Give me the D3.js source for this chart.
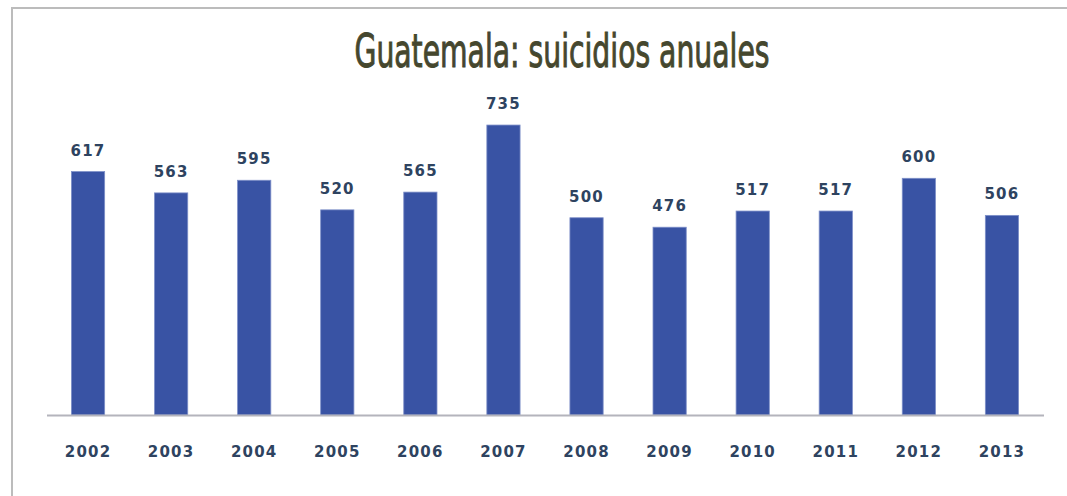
<!DOCTYPE html>
<html>
<head>
<meta charset="utf-8">
<script src="https://cdn.jsdelivr.net/npm/d3@7"></script>
<style>
  body { margin: 0; background: #fff; }
</style>
</head>
<body>
<div id="chart"></div>
<script>
// datos
const years = ["2002", "2003", "2004", "2005", "2006", "2007", "2008", "2009", "2010", "2011", "2012", "2013"];
const suicides = [617, 563, 595, 520, 565, 735, 500, 476, 517, 517, 600, 506];
const title = "Guatemala: suicidios anuales";

const W = 1067, H = 496;

const svg = d3.select("#chart")
  .append("svg")
  .attr("width", W)
  .attr("height", H);

// marco gris
svg.append("path")
  .attr("d", `M12,${H + 5} L12,8 L${W + 5},8`)
  .attr("fill", "none")
  .attr("stroke", "#bcbcbc")
  .attr("stroke-width", 2);

// escalas
const x = d3.scaleBand()
  .domain(years)
  .range([46.5, 1043.5])
  .paddingInner(0.6)
  .paddingOuter(0.3);

const y = d3.scaleLinear()
  .domain([0, 800])
  .range([415, 99.4]);

// barras
svg.selectAll(".bar")
  .data(years)
  .join("rect")
  .attr("class", "bar")
  .attr("x", d => x(d))
  .attr("y", (d, i) => y(suicides[i]))
  .attr("width", x.bandwidth())
  .attr("height", (d, i) => y(0) - y(suicides[i]))
  .attr("fill", "#3953a4")
  .attr("stroke", "#7d8fc8")
  .attr("stroke-width", 0.8);

// eje x
const xAxis = svg.append("g")
  .attr("transform", `translate(0,${y(0)})`)
  .call(d3.axisBottom(x).tickSize(0).tickPadding(31));

xAxis.select(".domain")
  .attr("stroke", "#b4b4bc")
  .attr("stroke-width", 2);

xAxis.selectAll(".tick text")
  .attr("fill", "#2e4360")
  .style("font-family", "DejaVu Sans")
  .style("font-weight", "bold")
  .style("font-size", "15px")
  .style("letter-spacing", "1.2px");

// etiquetas de valores
svg.selectAll(".val")
  .data(years)
  .join("text")
  .attr("class", "val")
  .attr("x", d => x(d) + x.bandwidth() / 2)
  .attr("y", (d, i) => y(suicides[i]) - 16)
  .attr("text-anchor", "middle")
  .attr("fill", "#2e4360")
  .style("font-family", "DejaVu Sans")
  .style("font-weight", "bold")
  .style("font-size", "15px")
  .style("letter-spacing", "1.2px")
  .text((d, i) => suicides[i]);

// título
svg.append("text")
  .attr("x", 562)
  .attr("y", 67)
  .attr("text-anchor", "middle")
  .attr("fill", "#45472e")
  .attr("stroke", "#45472e")
  .attr("stroke-width", 1)
  .attr("textLength", 415)
  .attr("lengthAdjust", "spacingAndGlyphs")
  .style("font-family", "DejaVu Sans Condensed")
  .style("font-size", "47px")
  .text(title);
</script>
</body>
</html>
